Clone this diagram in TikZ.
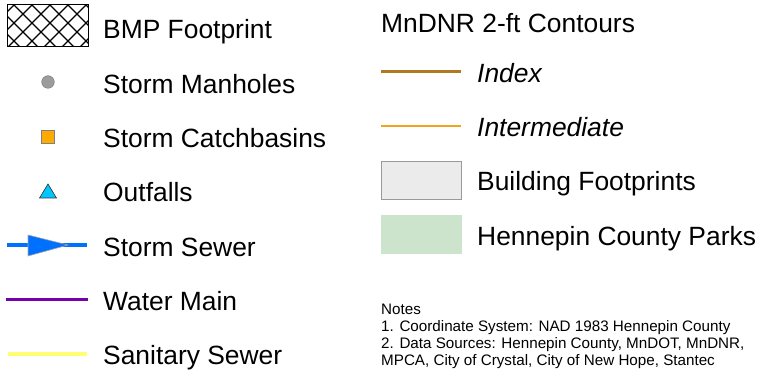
\documentclass[tikz,border=0pt]{standalone}
\usepackage{fontspec}
\setmainfont{Liberation Sans}
\usepackage{xcolor}
\definecolor{sewerblue}{RGB}{0,112,255}
\definecolor{mainpurple}{RGB}{118,0,170}
\definecolor{sanyellow}{RGB}{255,255,115}
\definecolor{indexbrown}{RGB}{176,122,30}
\definecolor{interorange}{RGB}{240,165,30}
\definecolor{bldgray}{RGB}{235,235,235}
\definecolor{parkgreen}{RGB}{204,227,204}
\definecolor{mhgray}{RGB}{156,156,156}
\definecolor{cbasin}{RGB}{255,170,0}
\definecolor{outcyan}{RGB}{0,197,255}

\begin{document}
\begin{tikzpicture}[x=1pt,y=-1pt,
    lbl/.style={anchor=base west,inner sep=0pt,font=\fontsize{26.4}{30}\selectfont},
    note/.style={anchor=base west,inner sep=0pt,font=\fontsize{15.2}{17}\selectfont}]
    \useasboundingbox (0,0) rectangle (758,371);
    % BMP footprint swatch
    \begin{scope}
      \clip (7,5) rectangle (88,47);
      \foreach \s in {-40,-22,...,140}{
        \draw[line width=1.2pt] (\s,5) -- ++(42,42);
        \draw[line width=1.2pt] (\s,5) -- ++(-42,42);
      }
    \end{scope}
    \draw[line width=1pt] (7,5) rectangle (88,47);
    % point symbols
    \filldraw[fill=mhgray,draw=gray,line width=0.5pt] (48,82) circle (6.3);
    \filldraw[fill=cbasin,draw=gray,line width=0.5pt] (41.5,130.5) rectangle (54.5,143.5);
    \filldraw[fill=outcyan,draw=black!80,line width=0.6pt] (39.5,198) -- (48,184) -- (56.5,198) -- cycle;
    % lines
    \draw[sewerblue,line width=4pt] (7,245) -- (87,245);
    \filldraw[fill=sewerblue,draw=gray!70,line width=0.6pt] (28,235) -- (68,245) -- (28,256) -- cycle;
    \draw[mainpurple,line width=3pt] (6,300) -- (88,300);
    \draw[sanyellow,line width=4pt] (8,354) -- (87,354);
    \foreach \t [count=\k from 0] in {BMP Footprint,Storm Manholes,Storm Catchbasins,Outfalls,Storm Sewer,Water Main,Sanitary Sewer}
      \node[lbl] (left\k) at (103,39+54.33*\k) {\t};
    % contours and areas
    \node[lbl] (contours) at (381,33) {MnDNR 2-ft Contours};
    \draw[indexbrown,line width=3pt] (381,72) -- (461,72);
    \draw[interorange,line width=1.3pt] (381,126) -- (461,126);
    \filldraw[fill=bldgray,draw=gray!80,line width=1pt] (381.5,161.5) rectangle (461.5,200);
    \fill[parkgreen] (381,215) rectangle (462,254);
    \node[lbl,font=\fontsize{26.4}{30}\selectfont\itshape] (index) at (477,83) {Index};
    \node[lbl,font=\fontsize{26.4}{30}\selectfont\itshape] (inter) at (477,137) {Intermediate};
    \node[lbl] (bldg) at (477,191) {Building Footprints};
    \node[lbl] (parks) at (477,246) {Hennepin County Parks};
    % notes
    \node[note] (notes) at (381,315) {Notes};
    \node[note] (note1) at (381,332) {1. Coordinate System: NAD 1983 Hennepin County};
    \node[note] (note2) at (381,349) {2. Data Sources: Hennepin County, MnDOT, MnDNR,};
    \node[note] (note3) at (381,366) {MPCA, City of Crystal, City of New Hope, Stantec};
  \end{tikzpicture}
\end{document}
